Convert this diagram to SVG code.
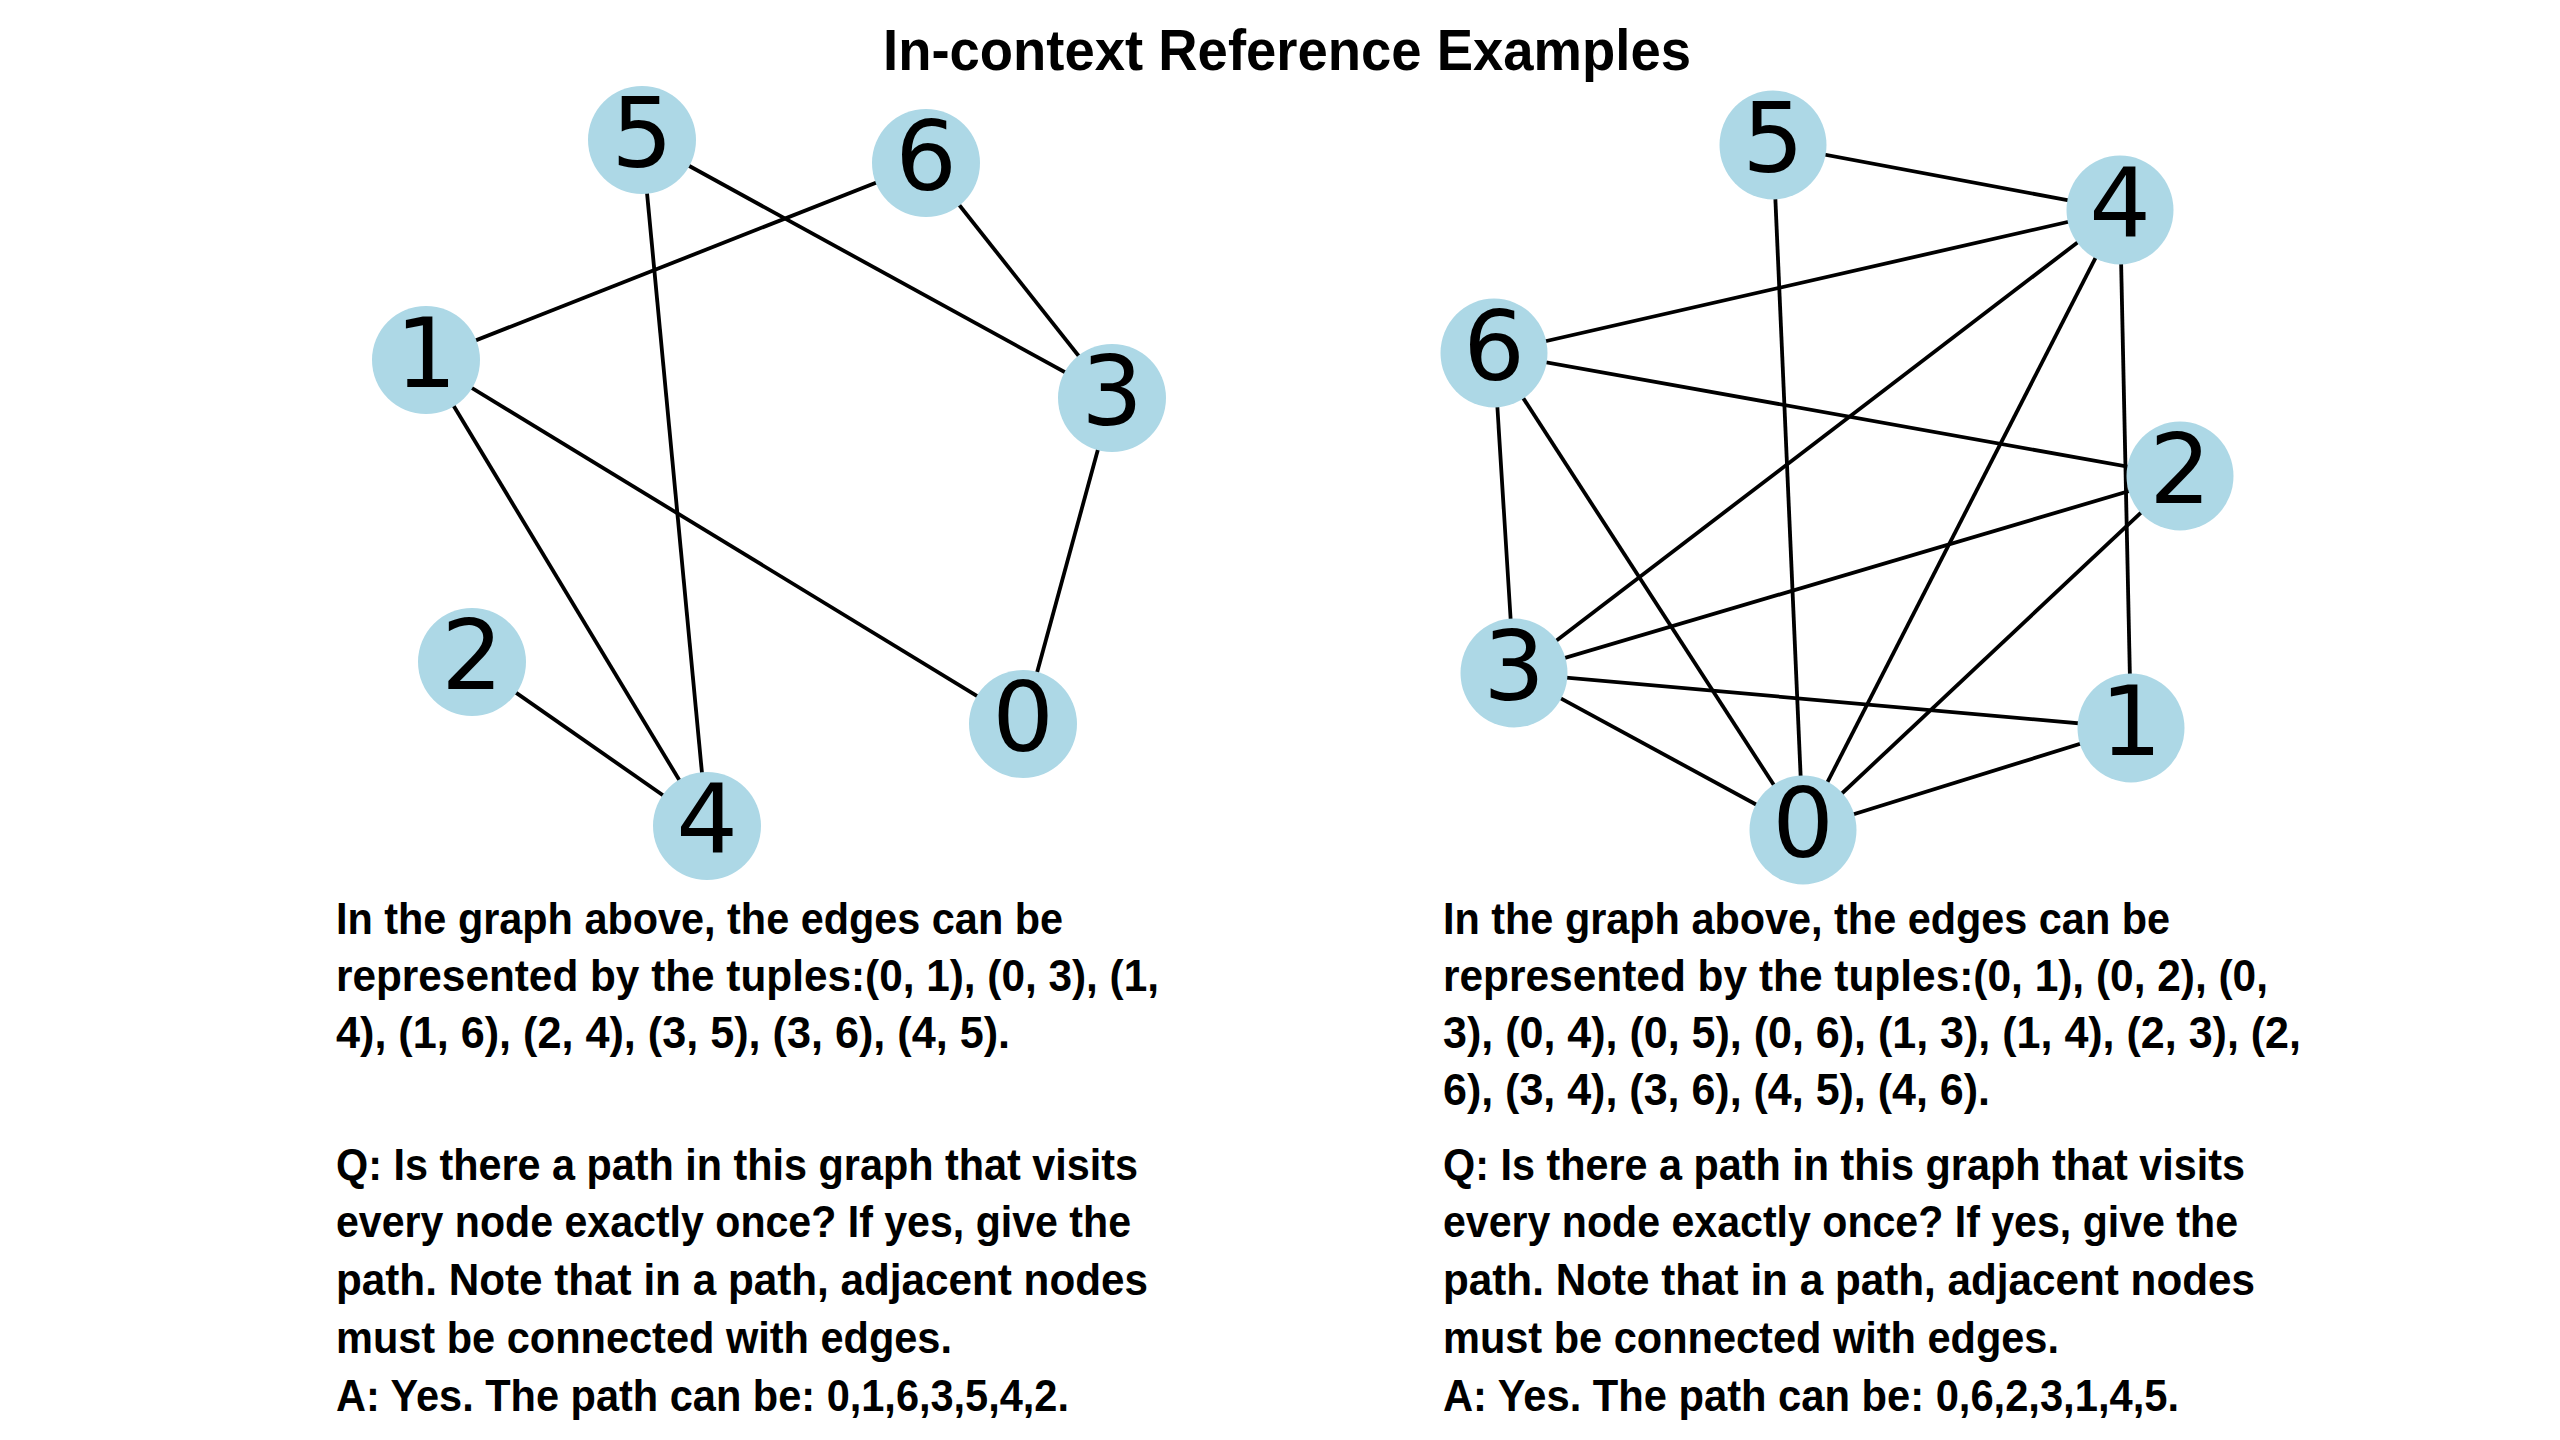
<svg xmlns="http://www.w3.org/2000/svg" width="2560" height="1440" viewBox="0 0 2560 1440">
<style>
.edge{stroke:#000;stroke-width:3.8;fill:none}
.node{fill:#ADD8E6}
.lbl{font-family:"DejaVu Sans",sans-serif;font-size:97px;fill:#000;text-anchor:middle}
.title{font-family:"Liberation Sans",Arial,sans-serif;font-weight:bold;font-size:57px;fill:#000}
.body{font-family:"Liberation Sans",Arial,sans-serif;font-weight:bold;font-size:45px;fill:#000}
</style>
<rect width="2560" height="1440" fill="#fff"/>
<text class="title" x="883" y="70" textLength="808" lengthAdjust="spacingAndGlyphs">In-context Reference Examples</text>

<g id="edges-left">
<line class="edge" x1="1023" y1="724" x2="426" y2="360"/>
<line class="edge" x1="1023" y1="724" x2="1112" y2="398"/>
<line class="edge" x1="426" y1="360" x2="707" y2="826"/>
<line class="edge" x1="426" y1="360" x2="926" y2="163"/>
<line class="edge" x1="472" y1="662" x2="707" y2="826"/>
<line class="edge" x1="1112" y1="398" x2="642" y2="140"/>
<line class="edge" x1="1112" y1="398" x2="926" y2="163"/>
<line class="edge" x1="707" y1="826" x2="642" y2="140"/>
</g>
<g id="edges-right">
<line class="edge" x1="1803" y1="830" x2="2131" y2="728"/>
<line class="edge" x1="1803" y1="830" x2="2180" y2="476"/>
<line class="edge" x1="1803" y1="830" x2="1514" y2="673"/>
<line class="edge" x1="1803" y1="830" x2="2120" y2="210"/>
<line class="edge" x1="1803" y1="830" x2="1773" y2="145"/>
<line class="edge" x1="1803" y1="830" x2="1494" y2="353"/>
<line class="edge" x1="2131" y1="728" x2="1514" y2="673"/>
<line class="edge" x1="2131" y1="728" x2="2120" y2="210"/>
<line class="edge" x1="2180" y1="476" x2="1514" y2="673"/>
<line class="edge" x1="2180" y1="476" x2="1494" y2="353"/>
<line class="edge" x1="1514" y1="673" x2="2120" y2="210"/>
<line class="edge" x1="1514" y1="673" x2="1494" y2="353"/>
<line class="edge" x1="2120" y1="210" x2="1773" y2="145"/>
<line class="edge" x1="2120" y1="210" x2="1494" y2="353"/>
</g>

<g id="L0"><circle class="node" cx="1023" cy="724" r="54"/><text class="lbl" x="1023" y="751">0</text></g>
<g id="L1"><circle class="node" cx="426" cy="360" r="54"/><text class="lbl" x="426" y="387">1</text></g>
<g id="L2"><circle class="node" cx="472" cy="662" r="54"/><text class="lbl" x="472" y="689">2</text></g>
<g id="L3"><circle class="node" cx="1112" cy="398" r="54"/><text class="lbl" x="1112" y="425">3</text></g>
<g id="L4"><circle class="node" cx="707" cy="826" r="54"/><text class="lbl" x="707" y="853">4</text></g>
<g id="L5"><circle class="node" cx="642" cy="140" r="54"/><text class="lbl" x="642" y="167">5</text></g>
<g id="L6"><circle class="node" cx="926" cy="163" r="54"/><text class="lbl" x="926" y="190">6</text></g>

<g id="R0"><ellipse class="node" cx="1803" cy="830" rx="53.5" ry="54.5"/><text class="lbl" x="1803" y="857">0</text></g>
<g id="R1"><ellipse class="node" cx="2131" cy="728" rx="53.5" ry="54.5"/><text class="lbl" x="2131" y="755">1</text></g>
<g id="R2"><ellipse class="node" cx="2180" cy="476" rx="53.5" ry="54.5"/><text class="lbl" x="2180" y="503">2</text></g>
<g id="R3"><ellipse class="node" cx="1514" cy="673" rx="53.5" ry="54.5"/><text class="lbl" x="1514" y="700">3</text></g>
<g id="R4"><ellipse class="node" cx="2120" cy="210" rx="53.5" ry="54.5"/><text class="lbl" x="2120" y="237">4</text></g>
<g id="R5"><ellipse class="node" cx="1773" cy="145" rx="53.5" ry="54.5"/><text class="lbl" x="1773" y="172">5</text></g>
<g id="R6"><ellipse class="node" cx="1494" cy="353" rx="53.5" ry="54.5"/><text class="lbl" x="1494" y="380">6</text></g>

<g id="text-left">
<text class="body" x="336" y="934" textLength="727" lengthAdjust="spacingAndGlyphs">In the graph above, the edges can be</text>
<text class="body" x="336" y="991" textLength="823" lengthAdjust="spacingAndGlyphs">represented by the tuples:(0, 1), (0, 3), (1,</text>
<text class="body" x="336" y="1048" textLength="674" lengthAdjust="spacingAndGlyphs">4), (1, 6), (2, 4), (3, 5), (3, 6), (4, 5).</text>
<text class="body" x="336" y="1180" textLength="802" lengthAdjust="spacingAndGlyphs">Q: Is there a path in this graph that visits</text>
<text class="body" x="336" y="1237" textLength="795" lengthAdjust="spacingAndGlyphs">every node exactly once? If yes, give the</text>
<text class="body" x="336" y="1295" textLength="812" lengthAdjust="spacingAndGlyphs">path. Note that in a path, adjacent nodes</text>
<text class="body" x="336" y="1353" textLength="616" lengthAdjust="spacingAndGlyphs">must be connected with edges.</text>
<text class="body" x="336" y="1411" textLength="733" lengthAdjust="spacingAndGlyphs">A: Yes. The path can be: 0,1,6,3,5,4,2.</text>
</g>
<g id="text-right">
<text class="body" x="1443" y="934" textLength="727" lengthAdjust="spacingAndGlyphs">In the graph above, the edges can be</text>
<text class="body" x="1443" y="991" textLength="825" lengthAdjust="spacingAndGlyphs">represented by the tuples:(0, 1), (0, 2), (0,</text>
<text class="body" x="1443" y="1048" textLength="858" lengthAdjust="spacingAndGlyphs">3), (0, 4), (0, 5), (0, 6), (1, 3), (1, 4), (2, 3), (2,</text>
<text class="body" x="1443" y="1105" textLength="547" lengthAdjust="spacingAndGlyphs">6), (3, 4), (3, 6), (4, 5), (4, 6).</text>
<text class="body" x="1443" y="1180" textLength="802" lengthAdjust="spacingAndGlyphs">Q: Is there a path in this graph that visits</text>
<text class="body" x="1443" y="1237" textLength="795" lengthAdjust="spacingAndGlyphs">every node exactly once? If yes, give the</text>
<text class="body" x="1443" y="1295" textLength="812" lengthAdjust="spacingAndGlyphs">path. Note that in a path, adjacent nodes</text>
<text class="body" x="1443" y="1353" textLength="616" lengthAdjust="spacingAndGlyphs">must be connected with edges.</text>
<text class="body" x="1443" y="1411" textLength="736" lengthAdjust="spacingAndGlyphs">A: Yes. The path can be: 0,6,2,3,1,4,5.</text>
</g>
</svg>
